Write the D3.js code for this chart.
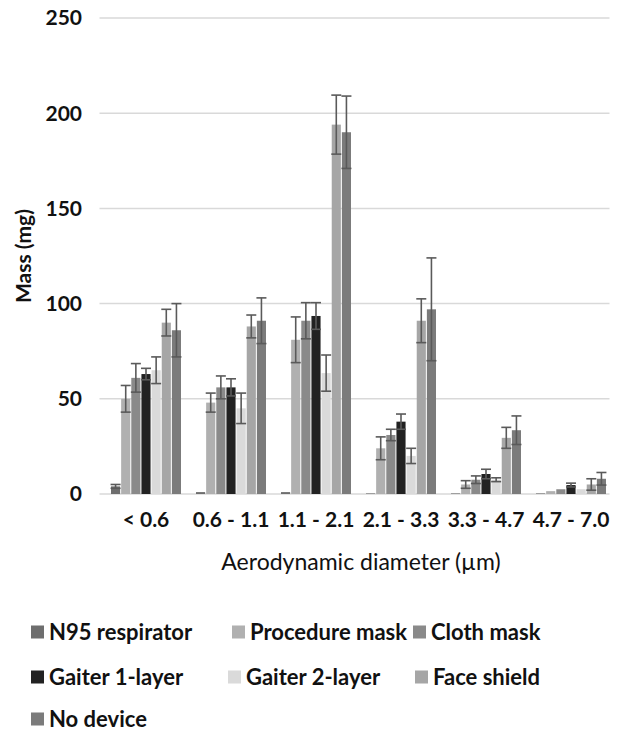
<!DOCTYPE html>
<html><head><meta charset="utf-8">
<script src="https://cdn.jsdelivr.net/npm/d3@7"></script>
<style>body{margin:0;background:#fff;} text{font-family:Lato,"Open Sans",sans-serif;}</style>
</head><body><svg id="c" width="617" height="736"></svg>
<script>
const categories = ["< 0.6","0.6 - 1.1","1.1 - 2.1","2.1 - 3.3","3.3 - 4.7","4.7 - 7.0"];
const seriesNames = ["N95 respirator","Procedure mask","Cloth mask","Gaiter 1-layer","Gaiter 2-layer","Face shield","No device"];
const seriesColors = ["#6e6e6e","#b0b0b0","#8a8a8a","#222222","#dadada","#a6a6a6","#7b7b7b"];
const n95 = [4, 1, 1, 0.3, 0.3, 0.3];
const n95Err = [1, 0, 0, 0, 0, 0];
const procedure = [50, 48, 81, 24, 5, 1.5];
const procedureErr = [7, 5, 12, 6, 2, 0];
const cloth = [61, 56, 91, 31, 7.5, 2.5];
const clothErr = [7.5, 6, 9.5, 3, 2, 0];
const gaiter1 = [63, 56, 93.5, 38, 10.5, 4.7];
const gaiter1Err = [3, 4.5, 7, 4, 2.5, 1];
const gaiter2 = [65, 45, 63.5, 20, 7.5, 2.5];
const gaiter2Err = [7, 8, 9.5, 4, 1, 0];
const faceShield = [90, 88, 194, 91, 29.5, 5];
const faceShieldErr = [7, 6, 15.5, 11.5, 5.5, 3];
const noDevice = [86, 91, 190, 97, 33.5, 8];
const noDeviceErr = [14, 12, 19, 27, 7.5, 3.3];
const yTicks = [0, 50, 100, 150, 200, 250];

const values = [n95, procedure, cloth, gaiter1, gaiter2, faceShield, noDevice];
const errs = [n95Err, procedureErr, clothErr, gaiter1Err, gaiter2Err, faceShieldErr, noDeviceErr];

const svg = d3.select("#c");
const plotTop = 18, plotBottom = 494, plotLeft = 103.5, plotRight = 613.5;
const y = d3.scaleLinear().domain([0, 250]).range([plotBottom, plotTop]);
const x0 = d3.scaleBand().domain(categories).range([plotLeft, plotRight]).paddingInner(15/85).paddingOuter(15/170);
const x1 = d3.scaleBand().domain(seriesNames).range([0, x0.bandwidth()]).paddingInner(0.1);

// gridlines
svg.append("g").selectAll("line").data(yTicks).join("line")
  .attr("x1", plotLeft - 4).attr("x2", plotRight - 4)
  .attr("y1", d => y(d)).attr("y2", d => y(d))
  .attr("stroke", "#d9d9d9").attr("stroke-width", 1.5);

// y tick labels
svg.append("g").selectAll("text").data(yTicks).join("text")
  .attr("x", 82).attr("y", d => y(d)).attr("dy", "0.35em")
  .attr("text-anchor", "end").attr("font-size", 21).attr("font-weight", "bold").attr("fill", "#111")
  .text(d => d);

// bars
const groups = svg.append("g").selectAll("g").data(categories).join("g")
  .attr("transform", d => `translate(${x0(d)},0)`);
groups.each(function(cat, ci) {
  const g = d3.select(this);
  seriesNames.forEach((s, si) => {
    const v = values[si][ci], e = errs[si][ci];
    const bx = x1(s), bw = x1.bandwidth();
    g.append("rect").attr("x", bx).attr("y", y(v)).attr("width", bw).attr("height", y(0) - y(v))
      .attr("fill", seriesColors[si]);
    if (e > 0) {
      const cx = bx + bw / 2;
      const ys = [y(v + e), y(Math.max(0, v - e))];
      g.append("line").attr("x1", cx).attr("x2", cx).attr("y1", ys[0]).attr("y2", ys[1])
        .attr("stroke", "#5a5a5a").attr("stroke-width", 1.6);
      ys.forEach(yy => g.append("line").attr("x1", cx - 5).attr("x2", cx + 5).attr("y1", yy).attr("y2", yy)
        .attr("stroke", "#5a5a5a").attr("stroke-width", 1.6));
    }
  });
});

// x tick labels
svg.append("g").selectAll("text").data(categories).join("text")
  .attr("x", d => x0(d) + x0.bandwidth() / 2).attr("y", 520).attr("dy", "0.35em")
  .attr("text-anchor", "middle").attr("font-size", 21).attr("font-weight", "bold").attr("fill", "#111")
  .text(d => d);

// axis titles
svg.append("text").attr("x", 361).attr("y", 562).attr("dy", "0.35em").attr("text-anchor", "middle")
  .attr("font-size", 23).attr("fill", "#111").text("Aerodynamic diameter (µm)");
svg.append("text").attr("transform", "translate(24,256) rotate(-90)").attr("dy", "0.35em")
  .attr("text-anchor", "middle").attr("font-size", 21).attr("font-weight", "bold").attr("fill", "#111")
  .text("Mass (mg)");

// legend
const legendPos = [[31,632],[232,632],[413,632],[31,677],[228,677],[415,677],[31,719]];
const lg = svg.append("g").selectAll("g").data(seriesNames).join("g")
  .attr("transform", (d, i) => `translate(${legendPos[i][0]},${legendPos[i][1]})`);
lg.append("rect").attr("x", 0).attr("y", -6.5).attr("width", 13).attr("height", 13)
  .attr("fill", (d, i) => seriesColors[i]);
lg.append("text").attr("x", 18).attr("y", 0).attr("dy", "0.35em")
  .attr("font-size", 22).attr("font-weight", "bold").attr("fill", "#111").text(d => d);
</script></body></html>
